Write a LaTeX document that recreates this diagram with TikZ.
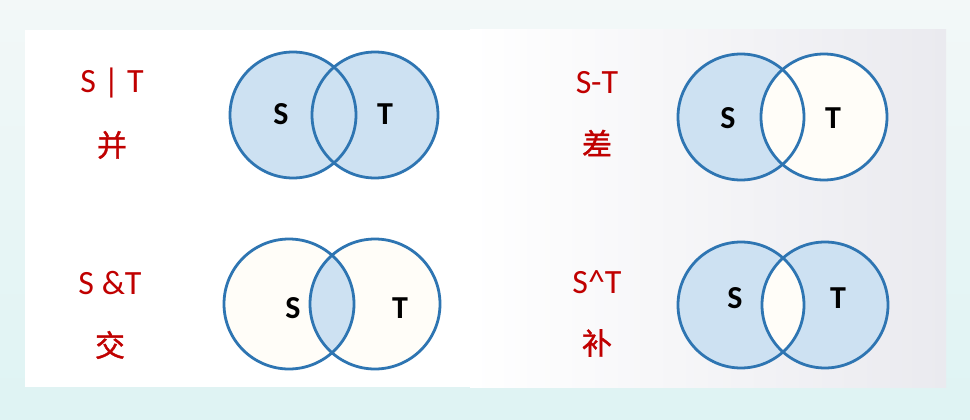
\documentclass[tikz,border=0pt]{standalone}
\usepackage{fontspec}
\setmainfont{Carlito}
\newfontfamily\cjk[AutoFakeBold=1.2]{Noto Sans CJK SC}
\definecolor{ring}{RGB}{46,117,178}
\definecolor{setfill}{RGB}{205,225,242}
\definecolor{hole}{RGB}{255,253,248}
\definecolor{labred}{RGB}{192,0,0}
\definecolor{bgtop}{RGB}{243,248,248}
\definecolor{bgbot}{RGB}{222,243,243}
\definecolor{panelgray}{RGB}{234,234,239}
\begin{document}
\begin{tikzpicture}[x=1pt,y=-1pt,
  ringnode/.style={circle,draw=ring,line width=2.8pt,minimum size=126pt,inner sep=0pt},
  oplab/.style={text=labred,font=\fontsize{34}{36}\selectfont},
  cjklab/.style={text=labred,font=\cjk\bfseries\fontsize{30}{32}\selectfont},
  setlab/.style={text=black,font=\bfseries\fontsize{32}{34}\selectfont}]
\useasboundingbox (0,0) rectangle (970,420);
\shade[top color=bgtop,bottom color=bgbot] (0,0) rectangle (970,420);
\fill[white] (25,30) rectangle (946,387);
\shade[left color=white,right color=panelgray] (470,30) rectangle (946,387);

% ---------- union ----------
\fill[setfill] (293,115) circle (63) (375,115) circle (63);
\node[ringnode] (a1) at (293,115) {};
\node[ringnode] (a2) at (375,115) {};
\node[setlab] (as) at (281,114) {S};
\node[setlab] (at) at (385,114) {T};
\node[oplab] (al) at (112,83) {S | T};
\node[cjklab] (ac) at (112,145) {并};

% ---------- difference ----------
\fill[hole] (824,117) circle (63);
\fill[setfill] (741,117) circle (63);
\begin{scope}
  \clip (741,117) circle (63);
  \fill[hole] (824,117) circle (63);
\end{scope}
\node[ringnode] (b1) at (741,117) {};
\node[ringnode] (b2) at (824,117) {};
\node[setlab] (bs) at (728,118) {S};
\node[setlab] (bt) at (833,118) {T};
\node[oplab] (bl) at (597,83) {S-T};
\node[cjklab] (bc) at (597,143) {差};

% ---------- intersection ----------
\fill[hole] (289,304) circle (65) (375,304) circle (65);
\begin{scope}
  \clip (289,304) circle (65);
  \fill[setfill] (375,304) circle (65);
\end{scope}
\node[ringnode,minimum size=130pt] (c1) at (289,304) {};
\node[ringnode,minimum size=130pt] (c2) at (375,304) {};
\node[setlab] (cs) at (293,308) {S};
\node[setlab] (ct) at (400,308) {T};
\node[oplab] (cl) at (110,283) {S \&T};
\node[cjklab] (cc) at (110,345) {交};

% ---------- symmetric difference ----------
\fill[setfill] (741,305) circle (63) (825,305) circle (63);
\begin{scope}
  \clip (741,305) circle (63);
  \fill[hole] (825,305) circle (63);
\end{scope}
\node[ringnode] (d1) at (741,305) {};
\node[ringnode] (d2) at (825,305) {};
\node[setlab] (ds) at (735,298) {S};
\node[setlab] (dt) at (838,298) {T};
\node[oplab] (dl) at (597,282) {S\^{}T};
\node[cjklab] (dc) at (597,343) {补};
\end{tikzpicture}
\end{document}
